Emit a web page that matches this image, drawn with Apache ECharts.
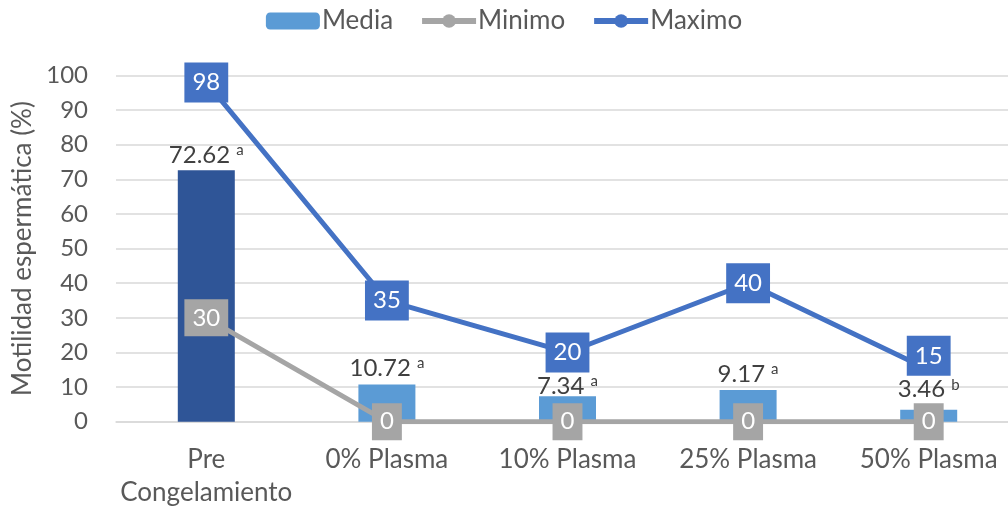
<!DOCTYPE html>
<html>
<head>
<meta charset="utf-8">
<script src="https://cdn.jsdelivr.net/npm/echarts@6/dist/echarts.min.js"></script>
<style>html,body{margin:0;padding:0;background:#fff;}#c{width:1008px;height:509px;}</style>
</head>
<body>
<div id="c"></div>
<script>
var categories = ['Pre\nCongelamiento', '0% Plasma', '10% Plasma', '25% Plasma', '50% Plasma'];
var media = [72.62, 10.72, 7.34, 9.17, 3.46];
var mediaLetters = ['a', 'a', 'a', 'a', 'b'];
var minimo = [30, 0, 0, 0, 0];
var maximo = [98, 35, 20, 40, 15];
var yTicks = [0, 10, 20, 30, 40, 50, 60, 70, 80, 90, 100];

var FONT = 'Lato, "Open Sans", sans-serif';
var FS = 24;
var FT = 26;
var barDist = [1, 2, -4, 2, 6];
var maxOffset = [0, 0, 0, 0, -14];

var chart = echarts.init(document.getElementById('c'), null, {renderer: 'canvas'});

var mediaData = media.map(function (v, i) {
  return {
    value: v,
    itemStyle: {color: i === 0 ? '#2F5597' : '#5B9BD5'},
    label: {distance: barDist[i]}
  };
});
var maxData = maximo.map(function (v, i) {
  return {value: v, label: {offset: [0, maxOffset[i]]}};
});

chart.setOption({
  animation: false,
  textStyle: {fontFamily: FONT},
  legend: {
    top: 3,
    left: 'center',
    itemWidth: 54,
    itemHeight: 17,
    itemGap: 26,
    textStyle: {fontSize: FT, color: '#595959', fontFamily: FONT, padding: [0, 0, 0, -3]},
    data: [
      {name: 'Media'},
      {name: 'Minimo', lineStyle: {width: 6, color: '#A5A5A5'}, itemStyle: {color: '#A5A5A5'}},
      {name: 'Maximo', lineStyle: {width: 6, color: '#4472C4'}, itemStyle: {color: '#4472C4'}}
    ]
  },
  grid: {left: 116, width: 903, top: 75.5, bottom: 87.3, outerBoundsMode: 'none', containLabel: false},
  xAxis: {
    type: 'category',
    data: categories,
    axisLine: {show: true, lineStyle: {color: '#D9D9D9', width: 1.5}},
    axisTick: {show: false},
    axisLabel: {fontSize: FT, color: '#595959', fontFamily: FONT, margin: 21, lineHeight: 33, interval: 0}
  },
  yAxis: {
    type: 'value',
    min: yTicks[0],
    max: yTicks[yTicks.length - 1],
    interval: 10,
    name: 'Motilidad espermática (%)',
    nameLocation: 'middle',
    nameGap: 78,
    nameTextStyle: {fontSize: FT, color: '#595959', fontFamily: FONT},
    axisLine: {show: false},
    axisTick: {show: false},
    axisLabel: {fontSize: FS, color: '#595959', fontFamily: FONT, margin: 28},
    splitLine: {lineStyle: {color: '#D9D9D9', width: 1.5}}
  },
  series: [
    {
      name: 'Media',
      type: 'bar',
      barWidth: 57,
      itemStyle: {color: '#5B9BD5'},
      data: mediaData,
      z: 1,
      label: {
        show: true,
        position: 'top',
        formatter: function (p) {
          return '{v|' + p.value.toFixed(2) + '} {s|' + mediaLetters[p.dataIndex] + '}';
        },
        rich: {
          v: {fontSize: FS, color: '#404040', fontFamily: FONT, lineHeight: 28},
          s: {fontSize: 15, color: '#404040', fontFamily: FONT, padding: [0, 0, 10, 3]}
        }
      }
    },
    {
      name: 'Minimo',
      type: 'line',
      data: minimo,
      symbol: 'circle',
      symbolSize: 8,
      lineStyle: {color: '#A5A5A5', width: 5},
      itemStyle: {color: '#A5A5A5'},
      z: 3,
      label: {
        show: true,
        position: 'inside',
        fontSize: FS,
        color: '#ffffff',
        fontFamily: FONT,
        backgroundColor: '#A5A5A5',
        padding: [7, 8, 6, 8]
      }
    },
    {
      name: 'Maximo',
      type: 'line',
      data: maxData,
      symbol: 'circle',
      symbolSize: 8,
      lineStyle: {color: '#4472C4', width: 5},
      itemStyle: {color: '#4472C4'},
      z: 4,
      label: {
        show: true,
        position: 'inside',
        fontSize: FS,
        color: '#ffffff',
        fontFamily: FONT,
        backgroundColor: '#4472C4',
        padding: [9, 8, 7, 8]
      }
    }
  ]
});
</script>
</body>
</html>
